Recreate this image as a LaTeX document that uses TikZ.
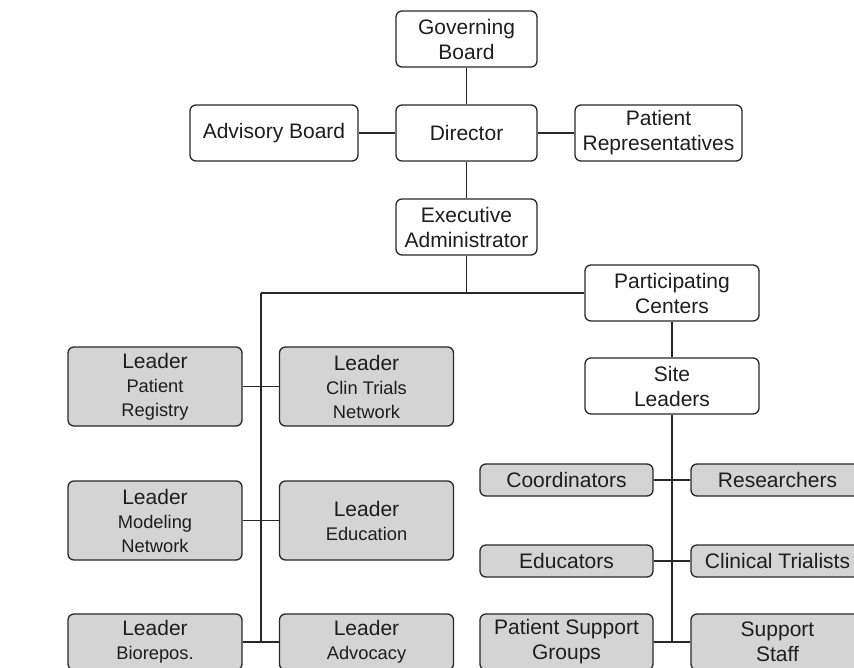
\documentclass[tikz,border=0pt]{standalone}
\usepackage{fontspec}
\setmainfont{Liberation Sans}
\definecolor{boxgray}{RGB}{212,212,212}
\definecolor{linec}{RGB}{40,40,40}
\definecolor{textc}{RGB}{30,30,30}
\newcommand{\leadfont}{\fontsize{21}{24}\selectfont}
\begin{document}
\begin{tikzpicture}[x=1pt,y=-1pt,
  box/.style={draw=linec,line width=1.3pt,rounded corners=6pt,rectangle,inner sep=0pt,
    align=center,font=\fontsize{21}{25}\selectfont,fill=white,text=textc},
  gbox/.style={box,fill=boxgray},
  leadbox/.style={gbox,minimum width=174pt,minimum height=79pt,font=\fontsize{18.3}{24}\selectfont},
  topbox/.style={box,minimum width=141pt,minimum height=56pt},
  cbox/.style={box,minimum width=174pt,minimum height=56pt},
  sbox/.style={gbox,minimum width=173pt,minimum height=32pt},
  pbox/.style={gbox,minimum width=173pt,minimum height=56pt},
  conn/.style={draw=linec,line width=1.3pt}]
\useasboundingbox (0,0) rectangle (854,668);
\clip (0,0) rectangle (854,668);
\fill[white] (0,0) rectangle (854,668);
% top part
\node[topbox] (gov) at (466.5,39) {Governing\\Board};
\node[topbox] (dir) at (466.5,133) {Director};
\node[box,minimum width=168pt,minimum height=56pt] (adv) at (274,133) {Advisory Board};
\node[box,minimum width=167pt,minimum height=56pt] (prep) at (658.5,133) {Patient\\Representatives};
\node[topbox] (exec) at (466.5,227) {Executive\\Administrator};
\node[cbox] (part) at (672,293) {Participating\\Centers};
\node[cbox] (site) at (672,386) {Site\\Leaders};
% left leaders
\node[leadbox] (lpr) at (155,386.5) {{\leadfont Leader}\\Patient\\Registry};
\node[leadbox] (lct) at (366.5,386.5) {{\leadfont Leader}\\Clin Trials\\Network};
\node[leadbox] (lmn) at (155,520.5) {{\leadfont Leader}\\Modeling\\Network};
\node[leadbox] (led) at (366.5,520.5) {{\leadfont Leader}\\Education};
\node[leadbox,minimum height=56pt] (lbio) at (155,642) {{\leadfont Leader}\\Biorepos.};
\node[leadbox,minimum height=56pt] (ladv) at (366.5,642) {{\leadfont Leader}\\Advocacy};
% right staff
\node[sbox] (coord) at (566.5,480) {Coordinators};
\node[sbox] (res) at (777.5,480) {Researchers};
\node[sbox] (educ) at (566.5,561) {Educators};
\node[sbox] (ctr) at (777.5,561) {Clinical Trialists};
\node[pbox] (psg) at (566.5,642) {Patient Support\\Groups};
\node[pbox] (staff) at (777.5,642) {Support\\Staff};
% coordinates
\coordinate (lt) at (261,293);
\coordinate (lb) at (261,642);
\coordinate (rb) at (672,642);
% connectors
\draw[conn] (gov) -- (dir);
\draw[conn] (adv) -- (dir);
\draw[conn] (dir) -- (prep);
\draw[conn] (dir) -- (exec);
\draw[conn] (exec) |- (lt);
\draw[conn] (lt) -- (part.west);
\draw[conn] (lt) -- (lb);
\draw[conn] (part) -- (site);
\draw[conn] (site) -- (rb);
\draw[conn] (lpr) -- (lct);
\draw[conn] (lmn) -- (led);
\draw[conn] (lbio) -- (ladv);
\draw[conn] (coord) -- (res);
\draw[conn] (educ) -- (ctr);
\draw[conn] (psg) -- (staff);
\end{tikzpicture}
\end{document}
